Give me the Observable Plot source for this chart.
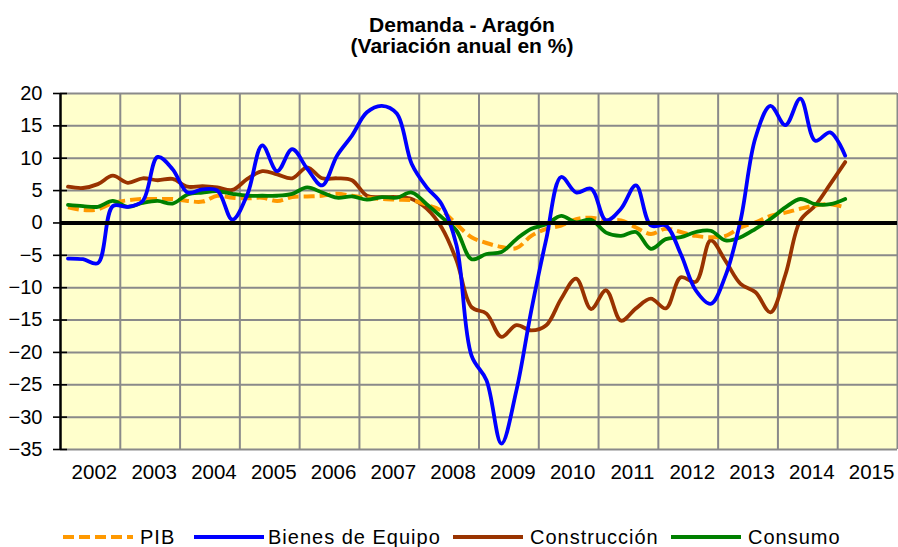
<!DOCTYPE html>
<html>
<head>
<meta charset="utf-8">
<script src="https://cdn.jsdelivr.net/npm/d3@7"></script>
<script src="https://cdn.jsdelivr.net/npm/@observablehq/plot@0.6"></script>
<style>
  body { margin: 0; background: white; font-family: "Liberation Sans", Arial, sans-serif; }
  #wrap { position: relative; width: 898px; height: 547px; overflow: hidden; }
  #title { position: absolute; left: 0; top: 14px; width: 924px; text-align: center; font-weight: bold; font-size: 21px; line-height: 21px; color: #000; }
  #legend { position: absolute; left: 0; top: 525px; width: 898px; height: 24px; font-size: 20px; line-height: 24px; color: #000; letter-spacing: 1px; }
  #legend .sw { position: absolute; top: 0; }
  #legend .lb { position: absolute; top: 0; white-space: nowrap; }
  #chart { position: absolute; left: 0; top: 0; }
</style>
</head>
<body>
<div id="wrap">
  <div id="chart"></div>
  <div id="title">Demanda - Aragón<br>(Variación anual en %)</div>
  <div id="legend"></div>
</div>
<script>
// Quarterly data, 2002Q1 .. 2015Q1
const startYear = 2002;
const pib = [2.4,2.0,2.1,3.1,3.5,3.7,3.7,3.7,3.4,3.3,4.2,3.9,3.8,3.9,3.4,4.0,4.1,4.2,4.5,4.2,3.9,3.7,3.6,3.5,2.8,1.9,-0.2,-2.2,-3.1,-3.7,-3.9,-2.0,-0.9,-0.4,0.6,0.8,0.4,0.4,-0.7,-1.7,-0.9,-1.4,-2.0,-2.2,-2.0,-0.7,0.1,1.1,1.6,2.2,2.7,2.9,2.4];
const bienesEquipo = [-5.5,-5.6,-6.2,2.6,2.5,3.4,10.2,8.3,4.7,5.2,5.0,0.5,4.4,12.0,8.0,11.4,8.4,5.8,10.4,13.5,17.1,18.1,16.9,9.1,5.5,2.9,-3.5,-20.5,-24.3,-34.1,-25.9,-13.5,-2.5,7.1,4.7,5.3,0.4,2.2,5.8,-0.4,-0.4,-4.8,-10.4,-12.5,-8.1,0.4,13.2,18.1,15.1,19.2,12.7,14.0,10.4];
const construccion = [5.6,5.4,6.0,7.3,6.2,6.9,6.6,6.8,5.6,5.7,5.5,5.1,6.8,8.0,7.5,6.9,8.6,6.9,6.9,6.6,4.2,4.0,4.0,3.7,2.2,-0.7,-5.8,-13.0,-14.0,-17.6,-15.8,-16.6,-15.8,-11.7,-8.6,-13.3,-10.4,-15.1,-13.2,-11.7,-13.2,-8.4,-9.1,-2.7,-5.9,-9.4,-10.7,-13.8,-8.0,0.4,2.7,6.0,9.4];
const consumo = [2.8,2.6,2.5,3.4,2.5,3.1,3.4,3.0,4.4,4.7,4.9,4.5,4.2,4.2,4.2,4.5,5.5,4.7,3.9,4.1,3.6,4.0,3.9,4.7,2.9,0.9,-1.2,-5.6,-4.8,-4.5,-2.5,-0.9,-0.2,1.1,0.1,0.5,-1.5,-2.0,-1.4,-4.0,-2.5,-2.2,-1.4,-1.2,-2.7,-2.2,-0.9,0.6,2.4,3.7,2.9,2.9,3.7];

const yearLabels = [2002,2003,2004,2005,2006,2007,2008,2009,2010,2011,2012,2013,2014,2015];
const yTicks = [-35,-30,-25,-20,-15,-10,-5,0,5,10,15,20];

const seriesNames = ["PIB","Bienes de Equipo","Construcción","Consumo"];
const seriesColors = ["#FF9900","#0000FF","#993300","#008000"];

function toRows(values) {
  return values.map((v, k) => ({t: startYear + (k + 0.5) / 4, v}));
}
const gridYears = yearLabels.slice(1).concat([yearLabels[yearLabels.length - 1] + 1]);
const labelPos = yearLabels.map(y => y + 0.5);

const lineOpts = (color, extra = {}) => Object.assign({x: "t", y: "v", stroke: color, strokeWidth: 3.8, curve: "catmull-rom", strokeLinejoin: "round", strokeLinecap: "round"}, extra);

const chart = Plot.plot({
  width: 898,
  height: 547,
  marginLeft: 60,
  marginRight: 1,
  marginTop: 93,
  marginBottom: 98,
  x: {domain: [yearLabels[0], yearLabels[yearLabels.length - 1] + 1], axis: null, label: null},
  y: {domain: [yTicks[0], yTicks[yTicks.length - 1]], axis: null, label: null},
  style: {fontFamily: "'Liberation Sans', Arial, sans-serif", fontSize: "20px", color: "black", background: "transparent", overflow: "visible"},
  marks: [
    Plot.frame({fill: "#FFFFCC", stroke: null}),
    Plot.ruleX(gridYears, {stroke: "#8a8a8a", strokeWidth: 2}),
    Plot.ruleY(yTicks, {stroke: "#8a8a8a", strokeWidth: 2}),
    Plot.line(toRows(construccion), lineOpts(seriesColors[2])),
    Plot.line(toRows(pib), lineOpts(seriesColors[0], {strokeDasharray: "11,5", strokeLinecap: "butt", strokeWidth: 4})),
    Plot.line(toRows(consumo), lineOpts(seriesColors[3])),
    Plot.line(toRows(bienesEquipo), lineOpts(seriesColors[1])),
    Plot.ruleY([0], {stroke: "black", strokeWidth: 4}),
    Plot.ruleX([yearLabels[0]], {stroke: "black", strokeWidth: 2.5}),
    Plot.axisY({ticks: yTicks, tickSize: 14, dx: 7, tickFormat: () => "", label: null, stroke: "black", strokeWidth: 1.6}),
    Plot.axisY({ticks: yTicks, tickSize: 0, tickPadding: 18, label: null, fontSize: 20, fill: "black"}),
    Plot.axisX({ticks: labelPos, tickSize: 0, tickPadding: 15, dx: 4, label: null, fontSize: 20.5, fill: "black", tickFormat: d => String(Math.floor(d))})
  ]
});
document.getElementById("chart").appendChild(chart);

// Legend
const legendLayout = [
  {sw: 62, lb: 140},
  {sw: 193, lb: 268},
  {sw: 452, lb: 530},
  {sw: 670, lb: 748}
];
const legend = document.getElementById("legend");
seriesNames.forEach((name, i) => {
  const svgNS = "http://www.w3.org/2000/svg";
  const s = document.createElementNS(svgNS, "svg");
  s.setAttribute("class", "sw");
  s.setAttribute("width", 72);
  s.setAttribute("height", 24);
  s.style.left = legendLayout[i].sw + "px";
  const l = document.createElementNS(svgNS, "line");
  l.setAttribute("x1", 1); l.setAttribute("x2", 71);
  l.setAttribute("y1", 12); l.setAttribute("y2", 12);
  l.setAttribute("stroke", seriesColors[i]);
  l.setAttribute("stroke-width", 4);
  if (i === 0) l.setAttribute("stroke-dasharray", "11,5");
  s.appendChild(l);
  legend.appendChild(s);
  const t = document.createElement("span");
  t.className = "lb";
  t.style.left = legendLayout[i].lb + "px";
  t.textContent = name;
  legend.appendChild(t);
});
</script>
</body>
</html>
